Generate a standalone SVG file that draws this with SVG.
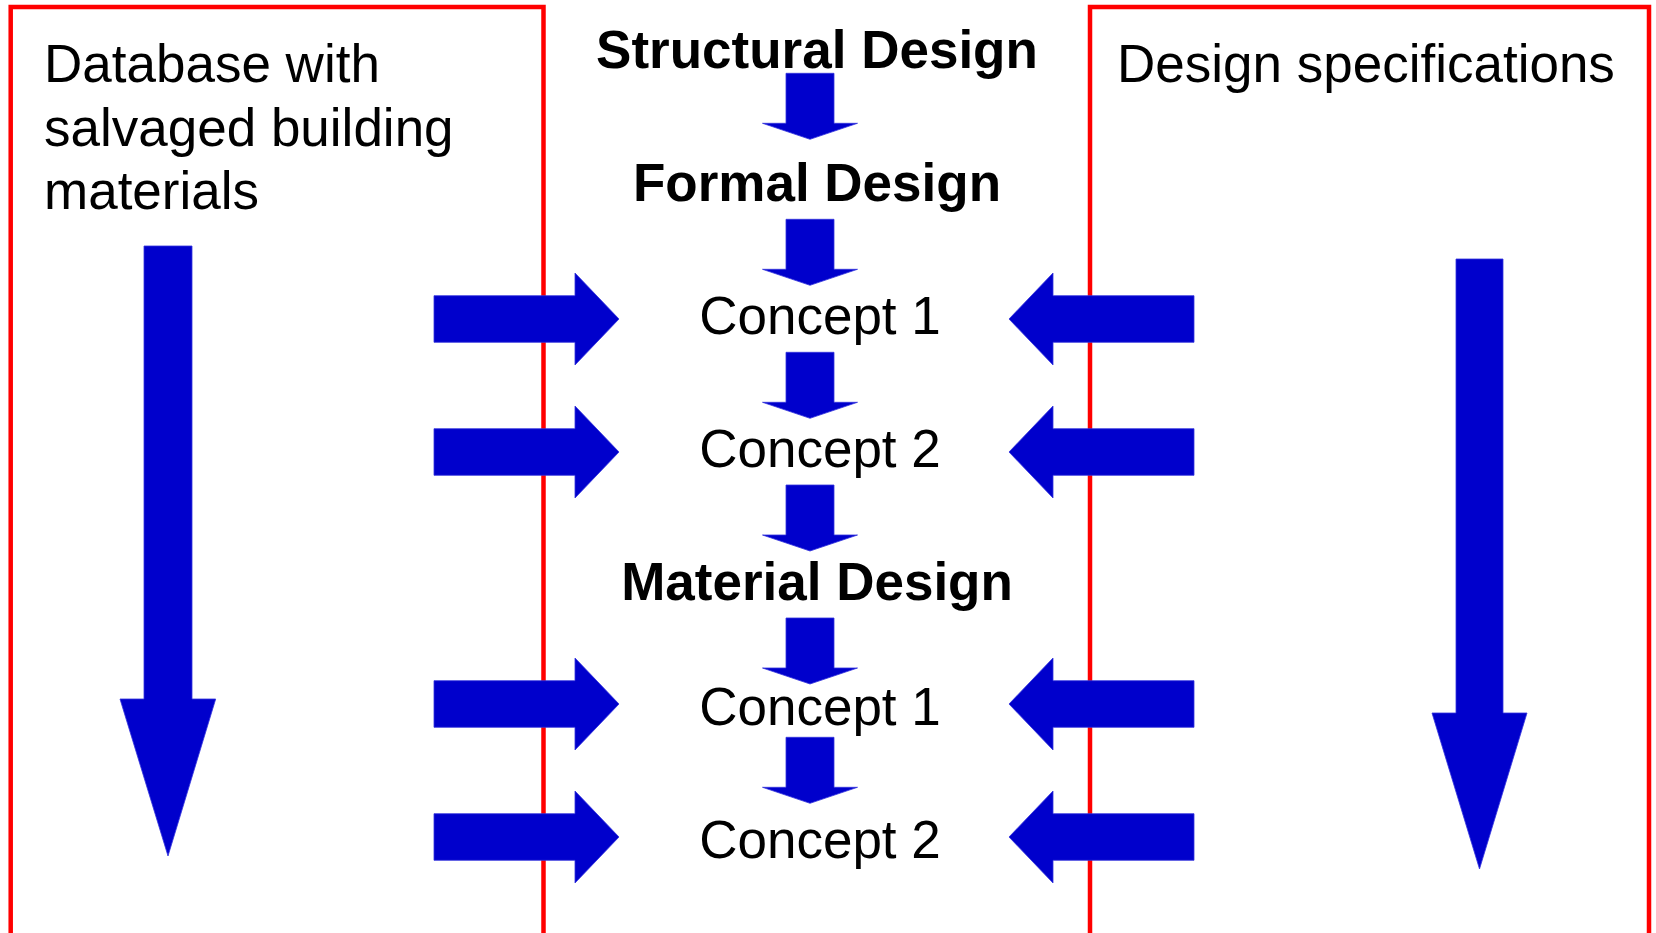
<svg xmlns="http://www.w3.org/2000/svg" width="1656" height="933" viewBox="0 0 1656 933">
<style>
.box{fill:none;stroke:#ff0000;stroke-width:4.5}
.arr{fill:#0000cc;stroke:#3333dd;stroke-width:0.8}
.t{font-family:"Liberation Sans",Arial,sans-serif;font-size:53px;fill:#000}
.b{font-weight:bold}
</style>
<defs>
<polygon id="down" points="-24,0 24,0 24,50 47.5,50 0,66 -47.5,50 -24,50"/>
<polygon id="right" points="0,-23.3 141,-23.3 141,-46 185,0 141,46 141,23.3 0,23.3"/>
<polygon id="left" points="0,-23.3 -141,-23.3 -141,-46 -185,0 -141,46 -141,23.3 0,23.3"/>
</defs>
<rect width="1656" height="933" fill="#fff"/>
<g id="db-box">
<path class="box" d="M10.7,940 V7 H543.5 V940"/>
<text class="t" x="44" y="82">Database with</text>
<text class="t" x="44" y="146">salvaged building</text>
<text class="t" x="44" y="209">materials</text>
</g>
<g id="spec-box">
<path class="box" d="M1090,940 V7 H1649 V940"/>
<text class="t" x="1117" y="82">Design specifications</text>
</g>
<g id="structural"><text class="t b" x="817" y="68" text-anchor="middle">Structural Design</text></g>
<g id="formal"><text class="t b" x="817" y="201" text-anchor="middle">Formal Design</text></g>
<g id="concept1a"><text class="t" x="820" y="334" text-anchor="middle">Concept 1</text></g>
<g id="concept2a"><text class="t" x="820" y="467" text-anchor="middle">Concept 2</text></g>
<g id="material"><text class="t b" x="817" y="600" text-anchor="middle">Material Design</text></g>
<g id="concept1b"><text class="t" x="820" y="725" text-anchor="middle">Concept 1</text></g>
<g id="concept2b"><text class="t" x="820" y="858" text-anchor="middle">Concept 2</text></g>
<g id="connectors">
<polygon class="arr" points="144,246 192,246 192,699 215.7,699 168,856 120,699 144,699"/>
<polygon class="arr" points="1456,259 1503,259 1503,713 1527,713 1479.5,869 1432,713 1456,713"/>
<use href="#down" class="arr" x="810" y="73.3"/>
<use href="#down" class="arr" x="810" y="219.3"/>
<use href="#down" class="arr" x="810" y="352.3"/>
<use href="#down" class="arr" x="810" y="485"/>
<use href="#down" class="arr" x="810" y="618"/>
<use href="#down" class="arr" x="810" y="737.3"/>
<use href="#right" class="arr" x="434" y="319"/>
<use href="#right" class="arr" x="434" y="452"/>
<use href="#right" class="arr" x="434" y="704"/>
<use href="#right" class="arr" x="434" y="837"/>
<use href="#left" class="arr" x="1194" y="319"/>
<use href="#left" class="arr" x="1194" y="452"/>
<use href="#left" class="arr" x="1194" y="704"/>
<use href="#left" class="arr" x="1194" y="837"/>
</g>
</svg>
